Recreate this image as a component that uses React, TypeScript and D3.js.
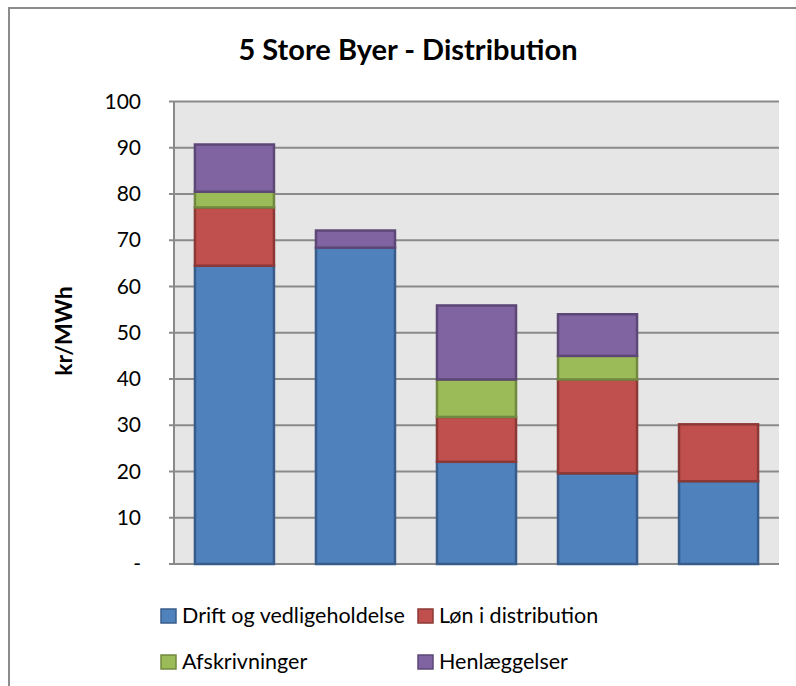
import React from "react";
import * as d3 from "d3";

// Cost components per city, kr/MWh
const cities = ["By 1", "By 2", "By 3", "By 4", "By 5"];
const drift = [64.5, 68.4, 22.1, 19.6, 17.9];
const loen = [12.6, 0, 9.7, 20.3, 12.3];
const afskrivninger = [3.4, 0, 8.1, 5.1, 0];
const henlaeggelser = [10.2, 3.7, 16.0, 9.0, 0];

const seriesNames = ["Drift og vedligeholdelse", "Løn i distribution", "Afskrivninger", "Henlæggelser"];
const seriesFill = ["#4F81BD", "#C0504D", "#9BBB59", "#8064A2"];
const seriesStroke = ["#385D8A", "#8C3836", "#71893F", "#5C4776"];
const yTicks = [0, 10, 20, 30, 40, 50, 60, 70, 80, 90, 100];

const W = 796;
const H = 686;
const plot = { left: 174, right: 779, top: 101.5, bottom: 564 };
const FONT = "Lato, 'Open Sans', sans-serif";

export default function App() {
  const rows = cities.map((c, i) => ({
    city: c,
    s0: drift[i],
    s1: loen[i],
    s2: afskrivninger[i],
    s3: henlaeggelser[i],
  }));
  const keys = ["s0", "s1", "s2", "s3"];
  const stacked = d3.stack<any>().keys(keys)(rows);

  const x = d3.scaleBand().domain(cities).range([plot.left, plot.right]).paddingInner(0.347).paddingOuter(0.173);
  const y = d3.scaleLinear().domain([0, 100]).range([plot.bottom, plot.top]);

  const legend = [
    { i: 0, x: 161, y: 609 },
    { i: 1, x: 418, y: 609 },
    { i: 2, x: 161, y: 655 },
    { i: 3, x: 418, y: 655 },
  ];

  return (
    <svg width={W} height={H} style={{ display: "block", position: "absolute", left: 0, top: 0 }}>
      <rect x={0} y={0} width={W} height={H} fill="#ffffff" />
      <rect x={9} y={8} width={W + 20} height={H + 20} fill="#ffffff" stroke="#8c8c8c" strokeWidth={2} />
      <text x={408} y={60} textAnchor="middle" fontFamily={FONT} fontWeight="bold" fontSize={29} fill="#000">
        5 Store Byer - Distribution
      </text>

      <rect x={plot.left} y={plot.top} width={plot.right - plot.left} height={plot.bottom - plot.top} fill="#E6E6E6" />
      {yTicks.map((t) => (
        <line key={t} x1={plot.left} x2={plot.right} y1={y(t)} y2={y(t)} stroke="#8a8a8a" strokeWidth={2} />
      ))}
      <line x1={plot.left} x2={plot.left} y1={plot.top} y2={plot.bottom} stroke="#8a8a8a" strokeWidth={2} />
      {yTicks.map((t) => (
        <line key={"t" + t} x1={plot.left - 5} x2={plot.left} y1={y(t)} y2={y(t)} stroke="#8a8a8a" strokeWidth={2} />
      ))}
      {yTicks.map((t) => (
        <text key={"l" + t} x={141} y={y(t) + 7} textAnchor="end" fontFamily={FONT} fontSize={21} fill="#000">
          {t === 0 ? "-" : t}
        </text>
      ))}
      <text
        transform={`translate(72,331) rotate(-90)`}
        textAnchor="middle"
        fontFamily={FONT}
        fontWeight="bold"
        fontSize={23}
        fill="#000"
      >
        kr/MWh
      </text>

      {stacked.map((layer, si) =>
        layer.map((d, ci) => {
          const h = y(d[0]) - y(d[1]);
          if (h <= 0) return null;
          return (
            <rect
              key={si + "-" + ci}
              x={x(cities[ci])!}
              y={y(d[1])}
              width={x.bandwidth()}
              height={h}
              fill={seriesFill[si]}
              stroke={seriesStroke[si]}
              strokeWidth={2.5}
            />
          );
        })
      )}

      {legend.map((l) => (
        <g key={l.i}>
          <rect x={l.x} y={l.y} width={15} height={14} fill={seriesFill[l.i]} stroke={seriesStroke[l.i]} strokeWidth={1.5} />
          <text x={l.x + 21} y={l.y + 14} fontFamily={FONT} fontSize={21.5} fill="#000">
            {seriesNames[l.i]}
          </text>
        </g>
      ))}
    </svg>
  );
}
